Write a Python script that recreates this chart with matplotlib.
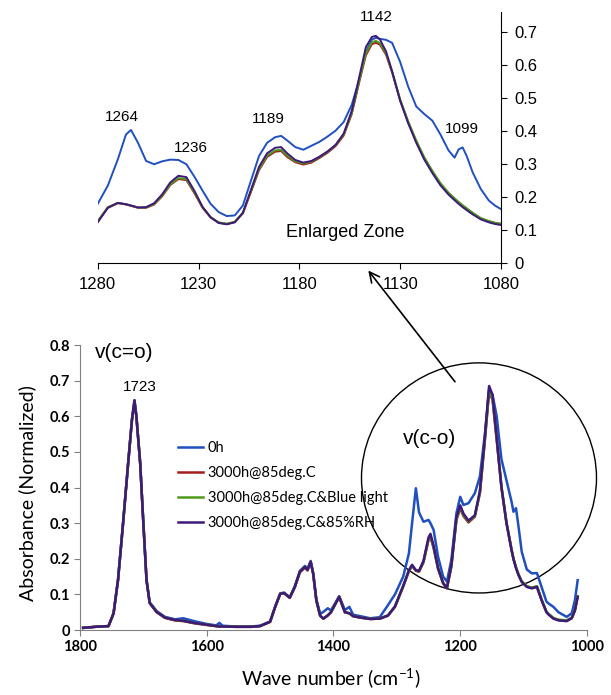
import matplotlib.pyplot as plt
from matplotlib.patches import Ellipse

plt.rcParams['font.family'] = ['Lato', 'DejaVu Sans']
plt.rcParams['mathtext.default'] = 'regular'

# ---- full spectrum (bottom panel) ----
wn_full = [1795, 1776, 1755, 1747, 1740, 1732, 1724, 1718, 1714, 1711,
           1705, 1700, 1695, 1690, 1679, 1666, 1650, 1637, 1620, 1600,
           1585, 1580, 1575, 1555, 1530, 1516, 1500, 1492, 1484, 1478,
           1469, 1461, 1453, 1445, 1441, 1436, 1432, 1427, 1421, 1416,
           1409, 1404, 1391, 1382, 1375, 1369, 1358, 1342, 1327, 1314,
           1303, 1290, 1281, 1276, 1270, 1265, 1258, 1250, 1247, 1242,
           1235, 1227, 1221, 1214, 1206, 1200, 1195, 1187, 1177, 1169,
           1161, 1154.5, 1149, 1142.5, 1135, 1127, 1119, 1116, 1112, 1108,
           1103, 1095, 1087, 1079, 1071.5, 1064, 1061, 1053, 1045, 1032,
           1024, 1019, 1014.7]

full_0h = [0.006, 0.009, 0.011, 0.047, 0.14, 0.30, 0.468, 0.59, 0.645, 0.60,
           0.468, 0.30, 0.14, 0.078, 0.053, 0.037, 0.030, 0.033, 0.025, 0.017,
           0.013, 0.020, 0.012, 0.010, 0.010, 0.012, 0.024, 0.066, 0.103, 0.105,
           0.092, 0.123, 0.166, 0.180, 0.171, 0.194, 0.160, 0.086, 0.045, 0.051,
           0.061, 0.055, 0.095, 0.056, 0.065, 0.043, 0.039, 0.033, 0.036, 0.070,
           0.100, 0.150, 0.215, 0.300, 0.398, 0.330, 0.304, 0.309, 0.300, 0.281,
           0.206, 0.150, 0.136, 0.197, 0.328, 0.374, 0.351, 0.356, 0.384, 0.431,
           0.552, 0.674, 0.660, 0.600, 0.480, 0.420, 0.360, 0.332, 0.342, 0.290,
           0.220, 0.170, 0.159, 0.160, 0.120, 0.080, 0.075, 0.065, 0.050, 0.037,
           0.047, 0.084, 0.140]

full_85c = [0.006, 0.009, 0.011, 0.047, 0.14, 0.30, 0.468, 0.59, 0.64, 0.60,
            0.468, 0.30, 0.14, 0.075, 0.050, 0.034, 0.027, 0.025, 0.019, 0.014,
            0.011, 0.010, 0.010, 0.009, 0.009, 0.011, 0.023, 0.065, 0.101, 0.103,
            0.090, 0.120, 0.162, 0.175, 0.167, 0.190, 0.157, 0.082, 0.040, 0.032,
            0.041, 0.050, 0.093, 0.050, 0.047, 0.039, 0.035, 0.031, 0.032, 0.040,
            0.065, 0.122, 0.165, 0.180, 0.166, 0.164, 0.190, 0.253, 0.262, 0.230,
            0.172, 0.131, 0.117, 0.178, 0.309, 0.342, 0.320, 0.302, 0.318, 0.384,
            0.534, 0.669, 0.646, 0.534, 0.400, 0.300, 0.225, 0.200, 0.175, 0.155,
            0.136, 0.122, 0.118, 0.122, 0.084, 0.051, 0.045, 0.033, 0.028, 0.026,
            0.034, 0.056, 0.094]

full_blue = [0.006, 0.009, 0.011, 0.047, 0.14, 0.30, 0.468, 0.59, 0.642, 0.60,
             0.468, 0.30, 0.14, 0.076, 0.051, 0.035, 0.028, 0.026, 0.020, 0.015,
             0.011, 0.010, 0.010, 0.009, 0.009, 0.011, 0.023, 0.065, 0.102, 0.104,
             0.091, 0.121, 0.164, 0.177, 0.169, 0.192, 0.158, 0.083, 0.040, 0.032,
             0.041, 0.050, 0.093, 0.050, 0.047, 0.039, 0.035, 0.031, 0.032, 0.041,
             0.066, 0.123, 0.166, 0.181, 0.167, 0.165, 0.192, 0.256, 0.265, 0.232,
             0.173, 0.132, 0.118, 0.180, 0.312, 0.346, 0.323, 0.305, 0.320, 0.386,
             0.538, 0.672, 0.650, 0.538, 0.403, 0.302, 0.226, 0.201, 0.176, 0.156,
             0.137, 0.123, 0.119, 0.123, 0.085, 0.052, 0.046, 0.034, 0.029, 0.027,
             0.035, 0.057, 0.095]

full_rh = [0.006, 0.009, 0.011, 0.047, 0.14, 0.30, 0.468, 0.59, 0.645, 0.60,
           0.468, 0.30, 0.14, 0.076, 0.051, 0.035, 0.028, 0.026, 0.020, 0.015,
           0.011, 0.010, 0.010, 0.009, 0.009, 0.011, 0.023, 0.065, 0.102, 0.104,
           0.091, 0.121, 0.164, 0.177, 0.169, 0.192, 0.158, 0.083, 0.040, 0.032,
           0.041, 0.050, 0.093, 0.050, 0.047, 0.039, 0.035, 0.031, 0.032, 0.041,
           0.066, 0.124, 0.168, 0.183, 0.168, 0.166, 0.194, 0.260, 0.270, 0.236,
           0.174, 0.132, 0.118, 0.182, 0.316, 0.350, 0.327, 0.307, 0.322, 0.390,
           0.545, 0.685, 0.660, 0.540, 0.402, 0.300, 0.224, 0.199, 0.174, 0.154,
           0.135, 0.121, 0.117, 0.121, 0.083, 0.050, 0.044, 0.032, 0.027, 0.025,
           0.033, 0.055, 0.093]

# ---- enlarged zone (top panel) ----
wn_zoom = [1280, 1275, 1270, 1266, 1263.5, 1260, 1256, 1252, 1248, 1244,
           1240, 1236, 1232, 1228, 1224, 1220, 1216, 1212, 1208, 1204,
           1200, 1196, 1192, 1189, 1186, 1182, 1178, 1174, 1170, 1166,
           1162, 1158, 1154, 1150, 1147, 1144, 1142, 1140, 1137, 1134,
           1130, 1126, 1122, 1118, 1114, 1110, 1106, 1103, 1101, 1099,
           1097, 1094, 1090, 1086, 1083, 1080]

zoom_0h = [0.18, 0.235, 0.315, 0.39, 0.404, 0.365, 0.31, 0.30, 0.309, 0.314,
           0.313, 0.30, 0.262, 0.22, 0.18, 0.155, 0.143, 0.145, 0.175, 0.25,
           0.325, 0.365, 0.382, 0.386, 0.372, 0.352, 0.344, 0.356, 0.368, 0.384,
           0.402, 0.428, 0.48, 0.563, 0.64, 0.678, 0.683, 0.68, 0.677, 0.668,
           0.61, 0.535, 0.475, 0.452, 0.432, 0.39, 0.342, 0.32, 0.345, 0.351,
           0.325, 0.275, 0.225, 0.19, 0.175, 0.164]

zoom_85c = [0.126, 0.168, 0.182, 0.178, 0.174, 0.168, 0.168, 0.178, 0.203, 0.237,
            0.255, 0.252, 0.212, 0.168, 0.139, 0.123, 0.119, 0.125, 0.151, 0.216,
            0.282, 0.322, 0.338, 0.340, 0.322, 0.306, 0.299, 0.305, 0.319, 0.335,
            0.355, 0.387, 0.452, 0.556, 0.630, 0.664, 0.668, 0.662, 0.632, 0.578,
            0.493, 0.427, 0.369, 0.318, 0.277, 0.240, 0.212, 0.195, 0.184, 0.174,
            0.165, 0.152, 0.136, 0.127, 0.122, 0.119]

zoom_blue = [0.128, 0.170, 0.183, 0.179, 0.175, 0.169, 0.169, 0.180, 0.205, 0.239,
             0.258, 0.255, 0.215, 0.170, 0.140, 0.124, 0.120, 0.126, 0.153, 0.219,
             0.286, 0.326, 0.342, 0.344, 0.326, 0.309, 0.302, 0.308, 0.322, 0.338,
             0.358, 0.391, 0.456, 0.561, 0.636, 0.670, 0.674, 0.667, 0.636, 0.582,
             0.497, 0.430, 0.372, 0.321, 0.280, 0.243, 0.214, 0.197, 0.186, 0.176,
             0.167, 0.153, 0.137, 0.128, 0.123, 0.120]

zoom_rh = [0.124, 0.168, 0.183, 0.179, 0.175, 0.169, 0.170, 0.182, 0.209, 0.245,
           0.265, 0.261, 0.219, 0.171, 0.139, 0.122, 0.118, 0.124, 0.153, 0.222,
           0.292, 0.333, 0.350, 0.352, 0.333, 0.313, 0.305, 0.310, 0.323, 0.339,
           0.359, 0.393, 0.462, 0.572, 0.655, 0.686, 0.689, 0.678, 0.642, 0.582,
           0.493, 0.424, 0.365, 0.314, 0.273, 0.236, 0.208, 0.191, 0.180, 0.170,
           0.161, 0.148, 0.133, 0.124, 0.119, 0.116]

labels = ['0h', '3000h@85deg.C', '3000h@85deg.C&Blue light', '3000h@85deg.C&85%RH']
colors = ['#1f4fc0', '#a51d1d', '#4f9a1c', '#3d1a7a']

peak_labels = ['1264', '1236', '1189', '1142', '1099']
peak_x = [1268, 1234, 1195.5, 1141.6, 1099.3]
peak_y = [0.443, 0.349, 0.437, 0.747, 0.407]

fig = plt.figure(figsize=(6.11, 6.95), dpi=100)
ax = fig.add_axes([0.1309, 0.0935, 0.8298, 0.410])
axz = fig.add_axes([0.1599, 0.6212, 0.660, 0.3609])
axz.patch.set_alpha(0)

# bottom: whole spectrum
full_series = [full_0h, full_85c, full_blue, full_rh]
for ys, lab, c in zip(full_series, labels, colors):
    ax.plot(wn_full, ys, color=c, lw=1.8, label=lab)

ax.set_xlim(1800, 1000)
ax.set_ylim(0, 0.8)
ax.set_xticks([1800, 1600, 1400, 1200, 1000])
ax.set_xticklabels(['1800', '1600', '1400', '1200', '1000'], fontweight='bold')
yt = [0, 0.1, 0.2, 0.3, 0.4, 0.5, 0.6, 0.7, 0.8]
ax.set_yticks(yt)
ax.set_yticklabels(['0'] + ['%.1f' % v for v in yt[1:]], fontweight='bold')
for s in ['top', 'right']:
    ax.spines[s].set_visible(False)
for s in ['left', 'bottom']:
    ax.spines[s].set_color('#808080')
ax.tick_params(direction='out', length=4, color='#808080', labelsize=10.5, pad=3)
ax.set_ylabel('Absorbance (Normalized)', fontsize=14)
ax.yaxis.set_label_coords(-0.087, 0.48)
ax.set_xlabel('Wave number (cm$^{-1}$)', fontsize=14)
ax.xaxis.set_label_coords(0.495, -0.125)

ax.legend(loc='upper left', bbox_to_anchor=(0.193, 0.663), frameon=False,
          fontsize=10.5, handlelength=1.7, handletextpad=0.35, labelspacing=0.75,
          borderpad=0, borderaxespad=0)

ax.text(1729.8, 0.778, 'v(c=o)', ha='center', va='center', fontsize=15,
        family='Liberation Sans')
ax.text(1705.3, 0.683, '1723', ha='center', va='center', fontsize=11,
        family='Liberation Sans')
ax.text(1247.7, 0.539, 'v(c-o)', ha='center', va='center', fontsize=15,
        family='Liberation Sans')
ax.add_patch(Ellipse((1170.4, 0.427), width=370.8, height=0.646, fill=False,
                     ec='black', lw=1.0, clip_on=False))

# top: enlarged zone
zoom_series = [zoom_0h, zoom_85c, zoom_blue, zoom_rh]
for ys, c in zip(zoom_series, colors):
    axz.plot(wn_zoom, ys, color=c, lw=1.4)

axz.set_xlim(1280, 1080)
axz.set_ylim(0, 0.76)
axz.set_xticks([1280, 1230, 1180, 1130, 1080])
axz.set_yticks(yt[:-1])
axz.set_yticklabels(['0'] + ['%.1f' % v for v in yt[1:-1]])
axz.yaxis.tick_right()
for s in ['top', 'left']:
    axz.spines[s].set_visible(False)
axz.tick_params(direction='out', length=4, labelsize=12, pad=6)
for t in axz.get_xticklabels() + axz.get_yticklabels():
    t.set_family('Liberation Sans')

for txt, x, y in zip(peak_labels, peak_x, peak_y):
    axz.text(x, y, txt, ha='center', va='center', fontsize=11,
             family='Liberation Sans', clip_on=False)
axz.text(1157.4, 0.092, 'Enlarged Zone', ha='center', va='center', fontsize=13,
         family='Liberation Sans')

# arrow from the circled region to the enlarged zone
axz.annotate('', xy=(1145.8, -0.022), xycoords='data',
             xytext=(1208.3, 0.697), textcoords=ax.transData,
             arrowprops=dict(arrowstyle='->', color='black', lw=1.2,
                             shrinkA=0, shrinkB=0, mutation_scale=18),
             annotation_clip=False)

fig.savefig('out.png', dpi=100)
